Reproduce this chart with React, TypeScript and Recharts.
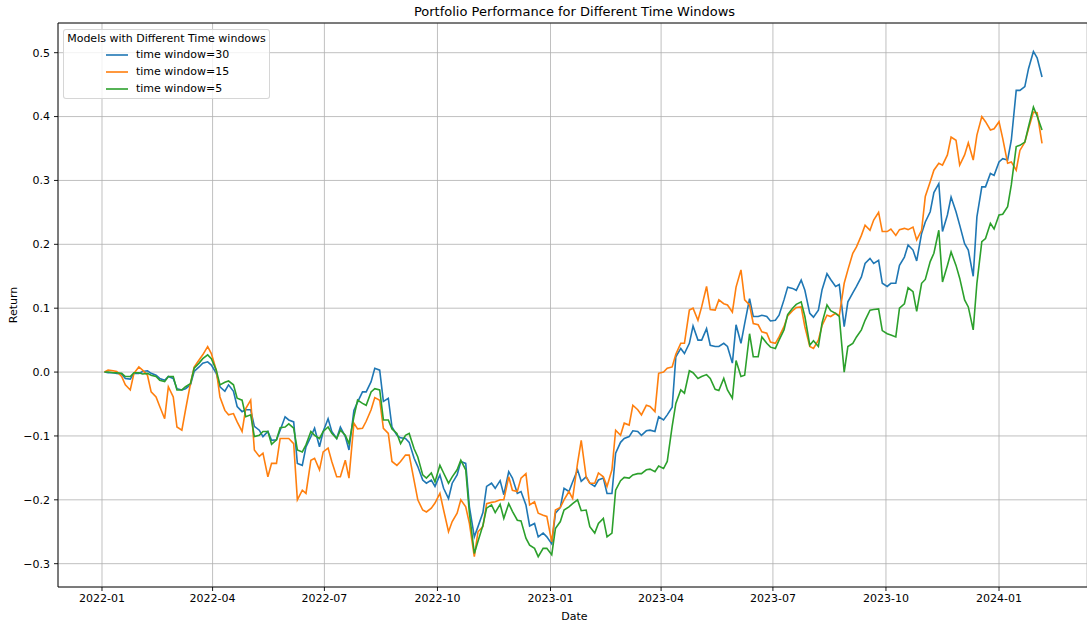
import { CartesianGrid, Label, Line, LineChart, ReferenceLine, XAxis, YAxis } from "recharts";

// week starts (Mondays); every week carries two closes: Monday and Thursday
const weeks = [
  "2022-01-03", "2022-01-10", "2022-01-17", "2022-01-24", "2022-01-31", "2022-02-07", "2022-02-14", "2022-02-21",
  "2022-02-28", "2022-03-07", "2022-03-14", "2022-03-21", "2022-03-28", "2022-04-04", "2022-04-11", "2022-04-18",
  "2022-04-25", "2022-05-02", "2022-05-09", "2022-05-16", "2022-05-23", "2022-05-30", "2022-06-06", "2022-06-13",
  "2022-06-20", "2022-06-27", "2022-07-04", "2022-07-11", "2022-07-18", "2022-07-25", "2022-08-01", "2022-08-08",
  "2022-08-15", "2022-08-22", "2022-08-29", "2022-09-05", "2022-09-12", "2022-09-19", "2022-09-26", "2022-10-03",
  "2022-10-10", "2022-10-17", "2022-10-24", "2022-10-31", "2022-11-07", "2022-11-14", "2022-11-21", "2022-11-28",
  "2022-12-05", "2022-12-12", "2022-12-19", "2022-12-26", "2023-01-02", "2023-01-09", "2023-01-16", "2023-01-23",
  "2023-01-30", "2023-02-06", "2023-02-13", "2023-02-20", "2023-02-27", "2023-03-06", "2023-03-13", "2023-03-20",
  "2023-03-27", "2023-04-03", "2023-04-10", "2023-04-17", "2023-04-24", "2023-05-01", "2023-05-08", "2023-05-15",
  "2023-05-22", "2023-05-29", "2023-06-05", "2023-06-12", "2023-06-19", "2023-06-26", "2023-07-03", "2023-07-10",
  "2023-07-17", "2023-07-24", "2023-07-31", "2023-08-07", "2023-08-14", "2023-08-21", "2023-08-28", "2023-09-04",
  "2023-09-11", "2023-09-18", "2023-09-25", "2023-10-02", "2023-10-09", "2023-10-16", "2023-10-23", "2023-10-30",
  "2023-11-06", "2023-11-13", "2023-11-20", "2023-11-27", "2023-12-04", "2023-12-11", "2023-12-18", "2023-12-25",
  "2024-01-01", "2024-01-08", "2024-01-15", "2024-01-22", "2024-01-29", "2024-02-05",
];

const window30 = [
  0, -0.001, -0.001, -0.002, -0.003, -0.01, -0.011, -0.002, -0.002, 0.001,
  0.002, -0.002, -0.005, -0.01, -0.013, -0.007, -0.01, -0.026, -0.028, -0.026,
  -0.02, 0.001, 0.008, 0.014, 0.016, 0.011, -0.002, -0.023, -0.03, -0.02,
  -0.03, -0.054, -0.062, -0.059, -0.059, -0.085, -0.091, -0.101, -0.093, -0.107,
  -0.106, -0.091, -0.07, -0.075, -0.078, -0.143, -0.146, -0.117, -0.101, -0.088,
  -0.117, -0.093, -0.073, -0.093, -0.104, -0.086, -0.101, -0.122, -0.06, -0.047,
  -0.031, -0.031, -0.015, 0.006, 0.003, -0.046, -0.041, -0.086, -0.099, -0.103,
  -0.104, -0.11, -0.135, -0.148, -0.169, -0.174, -0.169, -0.179, -0.161, -0.182,
  -0.198, -0.174, -0.161, -0.14, -0.143, -0.211, -0.258, -0.242, -0.22, -0.179,
  -0.174, -0.182, -0.17, -0.192, -0.156, -0.166, -0.19, -0.187, -0.208, -0.241,
  -0.237, -0.258, -0.252, -0.258, -0.269, -0.221, -0.212, -0.182, -0.187, -0.172,
  -0.153, -0.171, -0.164, -0.174, -0.179, -0.169, -0.166, -0.19, -0.19, -0.127,
  -0.11, -0.104, -0.101, -0.092, -0.093, -0.099, -0.092, -0.091, -0.093, -0.07,
  -0.075, -0.067, -0.055, 0.024, 0.037, 0.029, 0.045, 0.072, 0.05, 0.05,
  0.068, 0.042, 0.04, 0.04, 0.045, 0.04, 0.014, 0.074, 0.045, 0.076,
  0.115, 0.087, 0.087, 0.089, 0.087, 0.08, 0.081, 0.089, 0.113, 0.133,
  0.131, 0.128, 0.144, 0.128, 0.092, 0.086, 0.097, 0.129, 0.154, 0.145,
  0.134, 0.137, 0.071, 0.11, 0.124, 0.134, 0.149, 0.17, 0.178, 0.17,
  0.175, 0.139, 0.134, 0.139, 0.139, 0.167, 0.18, 0.199, 0.191, 0.174,
  0.217, 0.235, 0.251, 0.281, 0.295, 0.22, 0.246, 0.274, 0.251, 0.23,
  0.201, 0.191, 0.15, 0.243, 0.29, 0.29, 0.311, 0.308, 0.329, 0.334,
  0.332, 0.363, 0.441, 0.441, 0.447, 0.475, 0.502, 0.492, 0.462,
];

const window15 = [
  0, 0.003, 0.002, 0.001, -0.007, -0.02, -0.028, -0.002, 0.008, 0.003,
  -0.005, -0.031, -0.039, -0.054, -0.073, -0.023, -0.039, -0.086, -0.091, -0.059,
  -0.018, 0.008, 0.019, 0.027, 0.04, 0.029, 0.003, -0.039, -0.06, -0.067,
  -0.065, -0.078, -0.093, -0.057, -0.044, -0.122, -0.132, -0.127, -0.164, -0.143,
  -0.143, -0.104, -0.104, -0.104, -0.112, -0.2, -0.185, -0.19, -0.138, -0.135,
  -0.153, -0.125, -0.119, -0.14, -0.164, -0.164, -0.138, -0.166, -0.08, -0.089,
  -0.088, -0.077, -0.059, -0.04, -0.044, -0.088, -0.096, -0.14, -0.146, -0.14,
  -0.13, -0.13, -0.17, -0.2, -0.216, -0.219, -0.213, -0.205, -0.19, -0.216,
  -0.25, -0.234, -0.221, -0.2, -0.211, -0.237, -0.289, -0.25, -0.242, -0.206,
  -0.204, -0.203, -0.2, -0.2, -0.164, -0.185, -0.187, -0.166, -0.159, -0.208,
  -0.203, -0.221, -0.224, -0.226, -0.266, -0.216, -0.212, -0.2, -0.187, -0.198,
  -0.143, -0.107, -0.164, -0.174, -0.174, -0.158, -0.164, -0.179, -0.153, -0.091,
  -0.099, -0.08, -0.083, -0.052, -0.059, -0.067, -0.052, -0.054, -0.062, -0.002,
  0, 0.006, 0.008, 0.028, 0.045, 0.045, 0.097, 0.1, 0.081, 0.102,
  0.134, 0.098, 0.097, 0.113, 0.107, 0.105, 0.094, 0.133, 0.16, 0.113,
  0.105, 0.076, 0.074, 0.063, 0.061, 0.047, 0.045, 0.055, 0.071, 0.088,
  0.096, 0.101, 0.102, 0.071, 0.04, 0.037, 0.05, 0.073, 0.089, 0.087,
  0.092, 0.088, 0.139, 0.16, 0.186, 0.196, 0.214, 0.23, 0.222, 0.238,
  0.25, 0.22, 0.22, 0.224, 0.214, 0.223, 0.225, 0.223, 0.227, 0.207,
  0.222, 0.275, 0.298, 0.316, 0.327, 0.324, 0.34, 0.368, 0.363, 0.324,
  0.34, 0.359, 0.332, 0.371, 0.4, 0.392, 0.379, 0.381, 0.392, 0.366,
  0.327, 0.329, 0.316, 0.347, 0.36, 0.381, 0.407, 0.406, 0.358,
];

const window5 = [
  0, 0, -0.001, -0.001, -0.002, -0.007, -0.007, -0.001, -0.001, -0.003,
  -0.002, -0.005, -0.007, -0.013, -0.015, -0.007, -0.007, -0.028, -0.028, -0.023,
  -0.018, 0.006, 0.014, 0.021, 0.027, 0.021, 0.003, -0.02, -0.016, -0.014,
  -0.02, -0.041, -0.044, -0.07, -0.067, -0.101, -0.099, -0.093, -0.093, -0.113,
  -0.106, -0.087, -0.086, -0.081, -0.088, -0.122, -0.125, -0.114, -0.093, -0.099,
  -0.104, -0.093, -0.086, -0.096, -0.104, -0.091, -0.099, -0.112, -0.07, -0.044,
  -0.049, -0.052, -0.031, -0.026, -0.028, -0.075, -0.075, -0.089, -0.096, -0.112,
  -0.099, -0.096, -0.12, -0.133, -0.161, -0.166, -0.158, -0.172, -0.146, -0.158,
  -0.174, -0.164, -0.153, -0.138, -0.153, -0.221, -0.284, -0.265, -0.24, -0.213,
  -0.208, -0.22, -0.207, -0.229, -0.206, -0.218, -0.232, -0.233, -0.26, -0.271,
  -0.276, -0.289, -0.276, -0.276, -0.286, -0.245, -0.234, -0.216, -0.211, -0.206,
  -0.2, -0.217, -0.216, -0.242, -0.252, -0.237, -0.229, -0.258, -0.252, -0.185,
  -0.17, -0.165, -0.166, -0.161, -0.159, -0.159, -0.153, -0.152, -0.156, -0.147,
  -0.151, -0.14, -0.085, -0.049, -0.028, -0.033, 0.002, -0.001, -0.01, -0.007,
  -0.004, -0.01, -0.027, -0.029, -0.01, -0.028, -0.041, 0.018, -0.007, -0.005,
  0.06, 0.024, 0.024, 0.055, 0.045, 0.039, 0.037, 0.05, 0.066, 0.09,
  0.1, 0.106, 0.11, 0.087, 0.042, 0.049, 0.04, 0.077, 0.105, 0.096,
  0.092, 0.087, 0, 0.04, 0.045, 0.055, 0.066, 0.081, 0.097, 0.098,
  0.099, 0.065, 0.06, 0.058, 0.055, 0.1, 0.107, 0.132, 0.126, 0.095,
  0.139, 0.145, 0.173, 0.186, 0.222, 0.141, 0.167, 0.188, 0.167, 0.147,
  0.113, 0.102, 0.066, 0.139, 0.204, 0.209, 0.233, 0.224, 0.246, 0.247,
  0.259, 0.293, 0.353, 0.355, 0.36, 0.384, 0.415, 0.401, 0.379,
];

const xTickDates = [
  "2022-01-01", "2022-04-01", "2022-07-01", "2022-10-01", "2023-01-01",
  "2023-04-01", "2023-07-01", "2023-10-01", "2024-01-01",
];
const xTickLabels = ["2022-01", "2022-04", "2022-07", "2022-10", "2023-01", "2023-04", "2023-07", "2023-10", "2024-01"];
const yTicks = [-0.3, -0.2, -0.1, 0, 0.1, 0.2, 0.3, 0.4, 0.5];

const seriesKeys = ["w30", "w15", "w5"];
const seriesNames = ["time window=30", "time window=15", "time window=5"];
const seriesColors = ["#1f77b4", "#ff7f0e", "#2ca02c"];

const FONT = "DejaVu Sans";
const X_MIN = -35.8;
const X_MAX = 801.6;
const Y_MIN = -0.3365;
const Y_MAX = 0.5465;

const dayOf = (s: string) => {
  const [y, m, d] = s.split("-").map(Number);
  return (Date.UTC(y, m - 1, d) - Date.UTC(2022, 0, 1)) / 86400000;
};

// Monday close, then Thursday close of the same week
const rows = window30.map((_, j) => ({
  day: dayOf(weeks[j >> 1]) + (j % 2) * 3,
  w30: window30[j],
  w15: window15[j],
  w5: window5[j],
}));
const xTicks = xTickDates.map(dayOf);

const fmtY = (v: number) => (v < 0 ? "\u2212" : "") + Math.abs(v).toFixed(1);
const fmtX = (v: number) => xTickLabels[xTicks.indexOf(v)] ?? "";

const tickStyle = { fill: "#000", fontSize: 11, fontFamily: FONT };

function ChartLegend() {
  return (
    <div
      style={{
        position: "absolute",
        left: 63,
        top: 29,
        width: 207,
        height: 70,
        boxSizing: "border-box",
        background: "rgba(255,255,255,0.8)",
        border: "1px solid rgba(204,204,204,0.8)",
        borderRadius: 3,
        fontFamily: FONT,
        fontSize: 11,
        color: "#000",
      }}
    >
      <div style={{ position: "absolute", left: 0, right: 0, top: 1, textAlign: "center", lineHeight: "16px" }}>
        Models with Different Time windows
      </div>
      {seriesNames.map((name, i) => (
        <div key={name} style={{ position: "absolute", left: 41, top: 17 + i * 17, height: 16, lineHeight: "16px" }}>
          <svg width={24} height={16} style={{ position: "absolute", left: 0, top: 0 }}>
            <line x1={1} x2={23} y1={8} y2={8} stroke={seriesColors[i]} strokeWidth={1.6} />
          </svg>
          <span style={{ position: "absolute", left: 31, top: 0, whiteSpace: "nowrap" }}>{name}</span>
        </div>
      ))}
    </div>
  );
}

export default function App() {
  return (
    <div style={{ position: "absolute", left: 0, top: 0, width: 1087, height: 626, background: "#fff" }}>
      <LineChart width={1087} height={626} data={rows} margin={{ top: 23, right: 0, bottom: 0, left: 0 }}>
        <CartesianGrid stroke="#b0b0b0" strokeWidth={0.8} />
        <XAxis
          dataKey="day"
          type="number"
          domain={[X_MIN, X_MAX]}
          allowDataOverflow
          ticks={xTicks}
          interval={0}
          tickFormatter={fmtX}
          tick={tickStyle}
          tickSize={4}
          tickMargin={3}
          height={39}
          axisLine={{ stroke: "#000", strokeWidth: 0.9 }}
          tickLine={{ stroke: "#000", strokeWidth: 0.9 }}
        >
          <Label
            content={() => (
              <text x={574.5} y={619.5} textAnchor="middle" fontSize={11} fontFamily={FONT} fill="#000">
                Date
              </text>
            )}
          />
        </XAxis>
        <YAxis
          type="number"
          domain={[Y_MIN, Y_MAX]}
          allowDataOverflow
          ticks={yTicks}
          interval={0}
          tickFormatter={fmtY}
          tick={tickStyle}
          tickSize={4}
          tickMargin={4}
          width={58}
          axisLine={{ stroke: "#000", strokeWidth: 0.9 }}
          tickLine={{ stroke: "#000", strokeWidth: 0.9 }}
        >
          <Label
            content={() => (
              <text
                x={13.5}
                y={305}
                transform="rotate(-90, 13.5, 305)"
                textAnchor="middle"
                dominantBaseline="central"
                fontSize={11}
                fontFamily={FONT}
                fill="#000"
              >
                Return
              </text>
            )}
          />
        </YAxis>
        <ReferenceLine y={Y_MAX} stroke="#000" strokeWidth={0.9} ifOverflow="extendDomain">
          <Label
            content={() => (
              <text x={574.5} y={15.5} textAnchor="middle" fontSize={13} fontFamily={FONT} fill="#000">
                Portfolio Performance for Different Time Windows
              </text>
            )}
          />
        </ReferenceLine>
        {seriesKeys.map((k, i) => (
          <Line
            key={k}
            type="linear"
            dataKey={k}
            name={seriesNames[i]}
            stroke={seriesColors[i]}
            strokeWidth={1.6}
            dot={false}
            activeDot={false}
            isAnimationActive={false}
          />
        ))}
      </LineChart>
      <ChartLegend />
    </div>
  );
}
